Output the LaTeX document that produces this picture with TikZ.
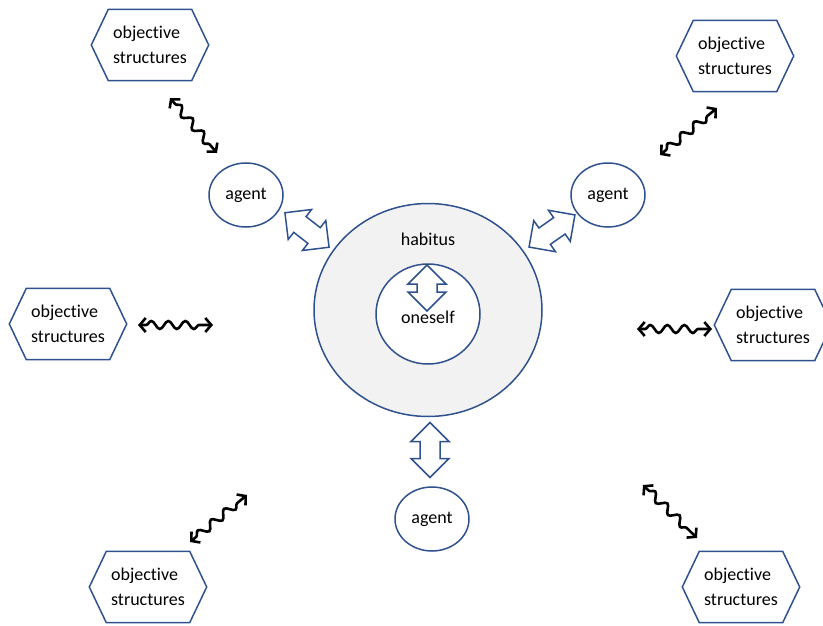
\documentclass[tikz,border=0pt]{standalone}
\usepackage{fontspec}
\setmainfont{Carlito}[Ligatures=NoCommon]
\usetikzlibrary{shapes.geometric,arrows.meta,decorations.pathmorphing}
\definecolor{outline}{RGB}{47,82,143}
\definecolor{ringfill}{RGB}{242,242,242}
\begin{document}
\begin{tikzpicture}[x=1pt,y=-1pt,
  lbl/.style={font=\fontsize{18}{24.5}\selectfont, text=black},
  shapeline/.style={draw=outline, line width=1.5pt},
  agentnode/.style={ellipse, shapeline, fill=white, minimum width=74pt,
    minimum height=64pt, inner sep=0pt, lbl},
  hexbox/.style={rectangle, minimum width=117pt, minimum height=71pt,
    inner sep=0pt, align=left, lbl},
  hexline/.style={shapeline, line join=miter},
  wavy/.style={draw=black, line width=2.6pt,
    {Straight Barb[length=6pt,width=14pt]}-{Straight Barb[length=6pt,width=14pt]},
    decorate, decoration={snake, segment length=17pt, amplitude=4pt,
    pre length=8pt, post length=8pt}},
  pics/dblock/.style={code={
    \draw[shapeline, fill=white, line join=miter]
      (-#1,0) -- (-#1+19,-19) -- (-#1+19,-10) -- (#1-19,-10) -- (#1-19,-19)
      -- (#1,0) -- (#1-19,19) -- (#1-19,10) -- (-#1+19,10) -- (-#1+19,19) -- cycle;
  }}
]
\useasboundingbox (0,0) rectangle (823,626);

% central rings
\node[ellipse, shapeline, fill=ringfill, minimum width=228pt, minimum height=213pt,
  inner sep=0pt] (hab) at (428,310) {};
\node[ellipse, shapeline, fill=white, minimum width=104pt, minimum height=100pt,
  inner sep=0pt] (self) at (428,314) {};
\node[lbl, anchor=base] (habl) at (428,245) {habitus};
\node[lbl, anchor=base] (selfl) at (428,323) {oneself};

% agents
\node[agentnode] (agTL) at (246,195) {agent};
\node[agentnode] (agTR) at (608,195) {agent};
\node[agentnode] (agB)  at (432,519) {agent};

% objective structures
\node[hexbox] (osTL) at (150,45)  {objective\\structures};
\node[hexbox] (osTR) at (735,56)  {objective\\structures};
\node[hexbox] (osL)  at (68,324)  {objective\\structures};
\node[hexbox] (osR)  at (773,325) {objective\\structures};
\node[hexbox] (osBL) at (148,587) {objective\\structures};
\node[hexbox] (osBR) at (741,587) {objective\\structures};
\foreach \n in {osTL,osTR,osL,osR,osBL,osBR}
  \draw[hexline] (\n.west) -- ([xshift=17pt]\n.north west)
    -- ([xshift=-17pt]\n.north east) -- (\n.east)
    -- ([xshift=-17pt]\n.south east) -- ([xshift=17pt]\n.south west) -- cycle;

% block arrows between agents, habitus and oneself
\pic[rotate=-38] (baTL) at (307,230) {dblock=28};
\pic[rotate=35]  (baTR) at (552,231) {dblock=28};
\pic[rotate=90]  (baB)  at (430,450) {dblock=27.5};
\pic[rotate=90]  (baS)  at (427,288) {dblock=23};

% wavy links to the objective structures
\coordinate (wTLa) at (170,98);  \coordinate (wTLb) at (217,153);
\coordinate (wTRa) at (660,155); \coordinate (wTRb) at (717,108);
\coordinate (wLa)  at (138,325); \coordinate (wLb)  at (213,325);
\coordinate (wRa)  at (637,329); \coordinate (wRb)  at (712,329);
\coordinate (wBLa) at (190,542); \coordinate (wBLb) at (247,495);
\coordinate (wBRa) at (643,485); \coordinate (wBRb) at (697,538);
\foreach \a/\b in {wTLa/wTLb,wTRa/wTRb,wLa/wLb,wRa/wRb,wBLa/wBLb,wBRa/wBRb}
  \draw[wavy] (\a) -- (\b);
\end{tikzpicture}
\end{document}
